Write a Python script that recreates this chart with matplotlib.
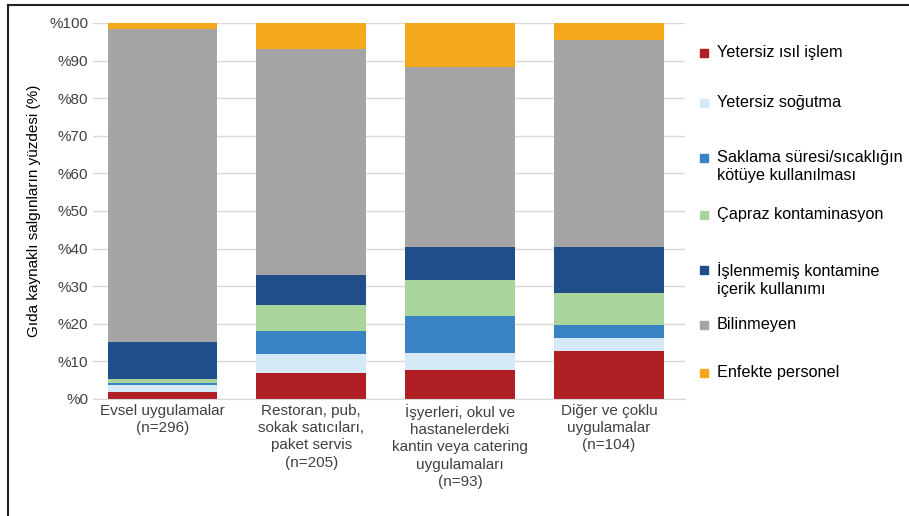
import matplotlib
matplotlib.use('Agg')
import matplotlib.pyplot as plt
from matplotlib.patches import Rectangle
from matplotlib.lines import Line2D
import numpy as np

plt.rcParams['font.family'] = ['Liberation Sans', 'DejaVu Sans']

categories = ['Evsel uygulamalar\n(n=296)',
              'Restoran, pub,\nsokak satıcıları,\npaket servis\n(n=205)',
              'İşyerleri, okul ve\nhastanelerdeki\nkantin veya catering\nuygulamaları\n(n=93)',
              'Diğer ve çoklu\nuygulamalar\n(n=104)']

series = ['Yetersiz ısıl işlem', 'Yetersiz soğutma',
          'Saklama süresi/sıcaklığın\nkötüye kullanılması', 'Çapraz kontaminasyon',
          'İşlenmemiş kontamine\niçerik kullanımı', 'Bilinmeyen', 'Enfekte personel']

# percent share per category
yetersiz_isil = [1.8, 6.8, 7.7, 12.8]
yetersiz_sogutma = [1.9, 5.2, 4.5, 3.3]
saklama = [0.5, 6.1, 9.9, 3.6]
capraz = [1.1, 6.9, 9.5, 8.6]
islenmemis = [9.8, 7.9, 8.7, 12.0]
bilinmeyen = [83.2, 60.2, 47.9, 55.2]
enfekte = [1.7, 6.9, 11.8, 4.5]

colors = ['#b01f24', '#d5e9f7', '#3a84c5', '#a9d49b', '#1f4e88', '#a5a5a5', '#f6a81c']

values = [yetersiz_isil, yetersiz_sogutma, saklama, capraz, islenmemis, bilinmeyen, enfekte]

fig = plt.figure(figsize=(9.09, 5.16), dpi=100)
ax = fig.add_axes([93/909, 1-399/516, (685-93)/909, (399-23)/516])

x = np.arange(len(categories))
bottom = np.zeros(len(categories))
for vals, col in zip(values, colors):
    ax.bar(x, vals, bottom=bottom, width=0.735, color=col, zorder=2)
    bottom += np.array(vals)

ax.set_ylim(0, 100)
ax.set_xlim(-0.465, 3.51)
ax.set_yticks(range(0, 101, 10))
ax.set_yticklabels(['%' + str(v) for v in range(0, 101, 10)], fontsize=11, color='#404040')
ax.set_xticks(x)
ax.set_xticklabels(categories, fontsize=11, color='#404040', linespacing=1.3)
ax.yaxis.grid(True, color='#d9d9d9', linewidth=1, zorder=0)
ax.tick_params(length=0)
for s in ['top', 'right', 'left']:
    ax.spines[s].set_visible(False)
ax.spines['bottom'].set_color('#d9d9d9')
ax.set_ylabel('Gıda kaynaklı salgınların yüzdesi (%)', fontsize=11, labelpad=6)

# legend
leg_y = [53, 103, 158, 215, 270, 325, 373]
for lab, col, yy in zip(series, colors, leg_y):
    fy = 1 - yy/516
    fig.patches.append(Rectangle((700/909, fy - 4/516), 8/909, 8/516,
                                 transform=fig.transFigure, color=col, figure=fig))
    fig.text(717/909, fy + 8/516, lab, fontsize=11.7, va='top', ha='left', linespacing=1.27)

# frame: only left and top edges
fig.lines.append(Line2D([8/909, 8/909], [0, 1 - 5/516], transform=fig.transFigure,
                        color='#222222', linewidth=1.5))
fig.lines.append(Line2D([8/909, 1], [1 - 5/516, 1 - 5/516], transform=fig.transFigure,
                        color='#222222', linewidth=1.5))

fig.savefig('out.png', dpi=100)
